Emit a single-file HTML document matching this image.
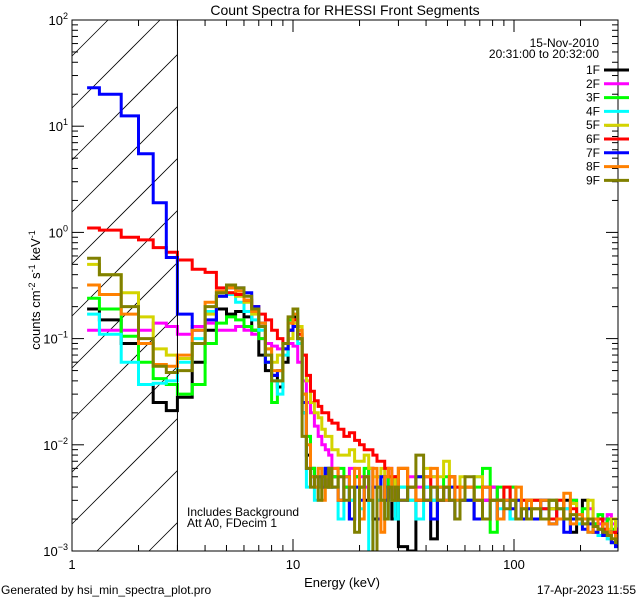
<!DOCTYPE html>
<html><head><meta charset="utf-8"><style>
html,body{margin:0;padding:0;background:#fff;width:640px;height:600px;overflow:hidden;}
svg{display:block;font-family:"Liberation Sans",sans-serif;}
</style></head><body>
<svg id="chart" width="640" height="600" viewBox="0 0 640 600" xmlns="http://www.w3.org/2000/svg">
<rect width="640" height="600" fill="#fff"/>
<defs><clipPath id="pc"><rect x="72" y="20" width="546" height="531"/></clipPath></defs>
<g id="hatch"></g>
<g id="series" clip-path="url(#pc)"></g>
<g id="axes"></g>
<text x="345" y="15" text-anchor="middle" font-size="14">Count Spectra for RHESSI Front Segments</text>
<text x="599" y="47" text-anchor="end" font-size="12">15-Nov-2010</text>
<text x="599" y="58" text-anchor="end" font-size="12">20:31:00 to 20:32:00</text>
<g id="legend"></g>
<text x="187" y="516" font-size="12">Includes Background</text>
<text x="187" y="527" font-size="12">Att A0, FDecim 1</text>
<text transform="translate(40,290) rotate(-90)" text-anchor="middle" font-size="13">counts cm<tspan dy="-5" font-size="9">-2</tspan><tspan dy="5"> s</tspan><tspan dy="-5" font-size="9">-1</tspan><tspan dy="5"> keV</tspan><tspan dy="-5" font-size="9">-1</tspan></text>
<text x="342" y="587" text-anchor="middle" font-size="13">Energy (keV)</text>
<text x="1" y="594" font-size="12">Generated by hsi_min_spectra_plot.pro</text>
<text x="636" y="594" text-anchor="end" font-size="12">17-Apr-2023 11:55</text>
</svg>
<script>
const edges=[1.17,1.33,1.67,2,2.33,2.67,3,
3.5,4,4.5,5,5.5,6,6.5,7,7.5,8,8.5,9,9.5,10,10.5,11,11.5,12,12.5,13,13.5,14,14.5,15,
16,17,18,19,20,21,22,23,24,25,26,27,28,29,30,
33,36,39,42,45,48,51,54,57,60,
66,72,78,84,90,96,102,108,114,120,
132,144,156,168,180,192,204,216,228,240,252,264,276,288,300,312];
const seriesNames=["1F","2F","3F","4F","5F","6F","7F","8F","9F"];
const seriesColors=["#000000","#ff00ff","#00ff00","#00ffff","#d4d400","#ff0000","#0000ff","#ff8000","#808000"];
const s1F=[0.19,0.15,0.09,0.037,0.025,0.021,
0.028,0.06,0.12,0.19,0.17,0.18,0.16,0.12,0.07,0.05,0.045,0.035,0.06,0.12,0.16,0.1,0.02,0.008,0.006,0.005,0.005,0.004,0.006,0.004,
0.005,0.003,0.004,0.002,0.005,0.004,0.003,0.006,0.002,0.004,0.005,0.003,0.004,0.002,0.005,
0.0011,0.001,0.003,0.004,0.0013,0.003,0.004,0.003,0.002,0.004,
0.003,0.002,0.003,0.004,0.002,0.003,0.002,0.003,0.002,0.003,
0.002,0.003,0.0025,0.002,0.003,0.0015,0.002,0.003,0.002,0.0018,0.002,0.0015,0.002,0.0012,0.0016,0.0012];
const s2F=[0.12,0.12,0.12,0.12,0.14,0.13,
0.11,0.13,0.14,0.12,0.12,0.13,0.12,0.11,0.1,0.09,0.085,0.08,0.08,0.09,0.085,0.06,0.04,0.025,0.02,0.015,0.012,0.01,0.009,0.008,
0.006,0.005,0.004,0.006,0.004,0.005,0.004,0.006,0.004,0.003,0.005,0.004,0.006,0.003,0.004,
0.003,0.005,0.004,0.003,0.005,0.003,0.004,0.003,0.004,0.003,
0.004,0.003,0.003,0.004,0.003,0.003,0.004,0.003,0.002,0.003,
0.003,0.0025,0.003,0.002,0.0025,0.003,0.002,0.002,0.0025,0.002,0.0018,0.002,0.0022,0.0018,0.0016,0.0014];
const s3F=[0.24,0.19,0.105,0.06,0.042,0.037,
0.03,0.037,0.09,0.14,0.16,0.15,0.13,0.12,0.1,0.06,0.025,0.04,0.08,0.15,0.19,0.12,0.03,0.012,0.006,0.005,0.004,0.005,0.004,0.004,
0.005,0.006,0.004,0.003,0.005,0.004,0.006,0.003,0.004,0.005,0.003,0.004,0.005,0.003,0.004,
0.004,0.003,0.005,0.004,0.003,0.004,0.005,0.004,0.003,0.004,
0.003,0.004,0.006,0.0015,0.004,0.003,0.004,0.003,0.002,0.003,
0.003,0.002,0.003,0.0025,0.002,0.003,0.002,0.0025,0.002,0.0018,0.0022,0.0018,0.002,0.0016,0.0014,0.0013];
const s4F=[0.17,0.11,0.06,0.037,0.038,0.04,
0.06,0.1,0.18,0.25,0.26,0.22,0.18,0.15,0.12,0.07,0.04,0.03,0.07,0.14,0.17,0.09,0.02,0.004,0.005,0.003,0.006,0.004,0.005,0.004,
0.004,0.002,0.005,0.003,0.004,0.0025,0.005,0.0008,0.004,0.003,0.005,0.002,0.003,0.004,0.002,
0.004,0.003,0.002,0.004,0.003,0.004,0.003,0.005,0.003,0.004,
0.003,0.005,0.002,0.003,0.0025,0.003,0.002,0.003,0.002,0.0025,
0.002,0.0025,0.0018,0.002,0.0025,0.002,0.0018,0.002,0.0015,0.002,0.0014,0.0016,0.0013,0.0012,0.0011,0.0011];
const s5F=[0.5,0.4,0.27,0.16,0.08,0.07,
0.065,0.09,0.17,0.25,0.27,0.25,0.22,0.17,0.14,0.08,0.06,0.07,0.08,0.1,0.14,0.13,0.07,0.04,0.025,0.02,0.018,0.014,0.012,0.012,
0.009,0.008,0.008,0.009,0.007,0.007,0.008,0.006,0.005,0.005,0.006,0.005,0.005,0.004,0.005,
0.006,0.004,0.005,0.006,0.005,0.005,0.007,0.005,0.004,0.005,
0.004,0.005,0.004,0.003,0.003,0.004,0.003,0.003,0.003,0.003,
0.003,0.003,0.0025,0.003,0.002,0.0028,0.002,0.002,0.003,0.002,0.002,0.0018,0.0016,0.002,0.0012,0.0015];
const s6F=[1.1,1.05,0.9,0.85,0.72,0.65,
0.55,0.45,0.42,0.3,0.27,0.26,0.23,0.2,0.17,0.15,0.12,0.1,0.09,0.12,0.15,0.11,0.07,0.045,0.032,0.026,0.023,0.02,0.02,0.017,
0.016,0.014,0.012,0.013,0.011,0.01,0.009,0.009,0.008,0.007,0.007,0.006,0.005,0.005,0.005,
0.006,0.004,0.003,0.005,0.004,0.003,0.004,0.005,0.004,0.003,
0.004,0.003,0.004,0.003,0.003,0.004,0.003,0.002,0.003,0.003,
0.003,0.0025,0.002,0.003,0.002,0.0025,0.002,0.0018,0.002,0.0015,0.002,0.0016,0.0014,0.0015,0.0012,0.0013];
const s7F=[23,20,12.5,5.5,1.9,0.58,
0.17,0.12,0.15,0.25,0.3,0.3,0.27,0.2,0.14,0.06,0.045,0.05,0.08,0.12,0.13,0.1,0.025,0.006,0.005,0.004,0.005,0.004,0.006,0.004,
0.004,0.003,0.005,0.002,0.004,0.003,0.005,0.003,0.004,0.002,0.005,0.003,0.004,0.003,0.004,
0.003,0.004,0.005,0.003,0.002,0.004,0.003,0.004,0.002,0.003,
0.003,0.002,0.004,0.003,0.002,0.003,0.0025,0.003,0.002,0.0025,
0.002,0.003,0.0018,0.002,0.0015,0.002,0.002,0.0016,0.0018,0.0015,0.0016,0.0014,0.0015,0.0012,0.0011,0.0012];
const s8F=[0.32,0.26,0.17,0.09,0.057,0.055,
0.07,0.12,0.22,0.28,0.3,0.28,0.23,0.18,0.14,0.08,0.05,0.05,0.09,0.14,0.17,0.12,0.03,0.01,0.005,0.004,0.006,0.003,0.005,0.004,
0.006,0.003,0.005,0.004,0.006,0.002,0.005,0.003,0.006,0.004,0.0015,0.005,0.006,0.003,0.004,
0.006,0.004,0.003,0.005,0.006,0.004,0.003,0.005,0.003,0.004,
0.004,0.003,0.004,0.003,0.002,0.003,0.003,0.004,0.0025,0.003,
0.0025,0.003,0.0018,0.002,0.0035,0.0018,0.0022,0.002,0.0015,0.002,0.0016,0.0018,0.0015,0.0013,0.0014,0.0012];
const s9F=[0.57,0.4,0.2,0.1,0.055,0.048,
0.05,0.09,0.2,0.27,0.32,0.3,0.25,0.19,0.13,0.07,0.04,0.04,0.09,0.16,0.19,0.1,0.012,0.006,0.004,0.005,0.003,0.005,0.004,0.006,
0.004,0.005,0.003,0.004,0.0015,0.004,0.005,0.003,0.0008,0.004,0.003,0.002,0.004,0.003,0.004,
0.003,0.004,0.008,0.003,0.004,0.003,0.004,0.003,0.002,0.003,
0.005,0.003,0.002,0.003,0.003,0.0025,0.003,0.002,0.0025,0.002,
0.0025,0.002,0.003,0.0025,0.002,0.0022,0.002,0.0018,0.002,0.0017,0.0016,0.0015,0.0014,0.0013,0.0012,0.0012];
const seriesValues=[s1F,s2F,s3F,s4F,s5F,s6F,s7F,s8F,s9F];
const xTickLabels=["1","10","100"];
const yTickExps=["2","1","0","-1","-2","-3"];

const X0=72,X1=618,Y0=20,Y1=551,DEC=221;
const YMAX=2,YMIN=-3;
function xs(e){return X0+Math.log10(e)*DEC;}
function ys(v){return Y0+(YMAX-Math.log10(v))/(YMAX-YMIN)*(Y1-Y0);}
function yc(v){return Math.max(Y0,Math.min(Y1+1,ys(v)));}
const NS="http://www.w3.org/2000/svg";
function mk(tag,attrs,parent){const el=document.createElementNS(NS,tag);for(const k in attrs)el.setAttribute(k,attrs[k]);parent.appendChild(el);return el;}

const hg=document.getElementById('hatch');
const HX1=xs(3);
for(let c=-600;c<800;c+=52){
  // line: y = c - x
  const xa=Math.max(X0,c-Y1), xb=Math.min(HX1,c-Y0);
  if(xb<=xa) continue;
  const ln=mk('line',{x1:xa,y1:c-xa,x2:xb,y2:c-xb,stroke:'#000','stroke-width':0.8},hg);
  
  
}
const ax=document.getElementById('axes');
const bl=mk('line',{x1:HX1,y1:Y0,x2:HX1,y2:Y1,stroke:'#000','stroke-width':1},ax);



const sg=document.getElementById('series');
seriesValues.forEach((vals,i)=>{
  let d='';
  for(let k=0;k<vals.length;k++){
    const xa=xs(edges[k]),xb=Math.min(X1,xs(edges[k+1])),y=yc(vals[k]);
    d+=(k===0?'M':'L')+xa.toFixed(1)+','+y.toFixed(1)+'L'+xb.toFixed(1)+','+y.toFixed(1);
  }
  const p=mk('path',{d:d,fill:'none',stroke:seriesColors[i],'stroke-width':3,'stroke-linejoin':'miter'},sg);
  
  
});

const fr=mk('rect',{x:X0,y:Y0,width:X1-X0,height:Y1-Y0,fill:'none',stroke:'#000','stroke-width':1},ax);



for(let dec=0;dec<3;dec++){
  for(let m=1;m<10;m++){
    const e=m*Math.pow(10,dec);const x=xs(e);if(x>X1)continue;
    const len=m===1?12:6;
    const t1=mk('line',{x1:x,y1:Y1,x2:x,y2:Y1-len,stroke:'#000'},ax);
    
    
    const t2=mk('line',{x1:x,y1:Y0,x2:x,y2:Y0+len,stroke:'#000'},ax);
    
    
  }
}
xTickLabels.forEach(l=>{
  const t=mk('text',{x:xs(+l),y:Y1+18,'text-anchor':'middle','font-size':13},ax);
  t.textContent=l;
  
  
});
for(let p=YMIN;p<YMAX;p++){
  for(let m=1;m<10;m++){
    const y=ys(m*Math.pow(10,p));const len=m===1?12:6;
    const a=mk('line',{x1:X0,y1:y,x2:X0+len,y2:y,stroke:'#000'},ax);
    
    
    const b=mk('line',{x1:X1,y1:y,x2:X1-len,y2:y,stroke:'#000'},ax);
    
    
  }
}
yTickExps.forEach(ex=>{
  const y=ys(Math.pow(10,+ex));
  const t=mk('text',{x:X0-4,y:y+5,'text-anchor':'end','font-size':13},ax);
  
  
  const a=document.createElementNS(NS,'tspan');a.textContent='10';t.appendChild(a);
  const b=document.createElementNS(NS,'tspan');b.setAttribute('dy','-6');b.setAttribute('font-size','9');b.textContent=ex.replace('-','\u2212');t.appendChild(b);
});
const lg=document.getElementById('legend');
seriesNames.forEach((n,i)=>{
  const y=70+i*13.8;
  const t=mk('text',{x:600,y:y+4,'text-anchor':'end','font-size':12},lg);
  t.textContent=n;
  
  
  const l=mk('line',{x1:604,y1:y,x2:629,y2:y,stroke:seriesColors[i],'stroke-width':3},lg);
  
  
});
</script>
</body></html>
